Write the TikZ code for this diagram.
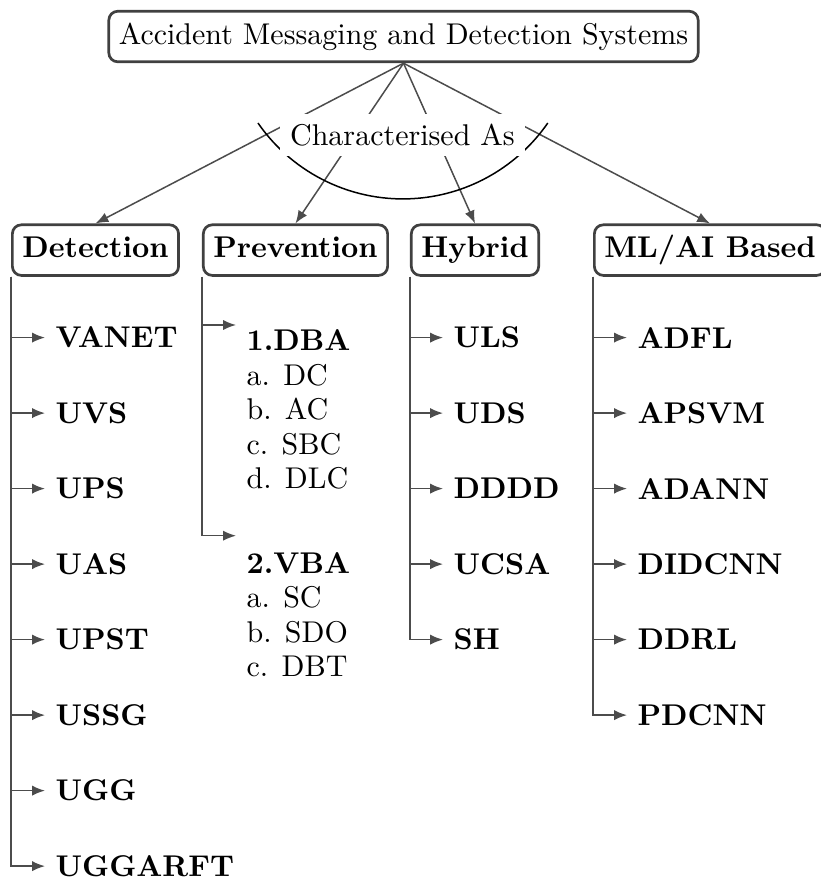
\documentclass[tikz,border=0pt]{standalone}
\usepackage{amsmath}
\usetikzlibrary{arrows.meta}

\begin{document}
\begin{tikzpicture}[
    box/.style={draw=black!75, line width=0.9pt, rounded corners=3pt, text height=7.6pt, text depth=2.6pt},
    head/.style={box, font=\bfseries, anchor=west},
    item/.style={font=\bfseries, anchor=west},
    sub/.style={align=left, anchor=north west},
    arr/.style={draw=black!70, line width=0.5pt, -{Latex[length=4.3pt,width=3.4pt]}}]
  \useasboundingbox (0,0) rectangle (9.607,-10.274);

  \node[box] (top) at (4.727,-0.428) {Accident Messaging and Detection Systems};

  \node[head] (det) at (0.129,-2.93) {Detection};
  \node[head] (prev) at (2.366,-2.93) {Prevention};
  \node[head] (hyb) at (4.803,-2.93) {Hybrid};
  \node[head] (ml) at (6.947,-2.93) {ML/AI Based};

  \foreach \n in {det,prev,hyb,ml}
    \draw[arr] (top.south) -- (\n.north);

  \draw[black, line width=0.5pt] (3.022,-1.441) arc[start angle=214.7, end angle=325.3, radius=2.065];
  \node[fill=white] (char) at (4.715,-1.582) {Characterised As};

  % detection
  \foreach \lbl [count=\i] in {VANET,UVS,UPS,UAS,UPST,USSG,UGG,UGGARFT} {
    \node[item] (det\i) at (0.527,{-3.955-0.8845*(\i-1)}) {\lbl};
    \draw[arr] (det.south west) |- (det\i.west);
  }

  % prevention
  \node[sub] (dba) at (2.765,-3.737) {\textbf{1.DBA}\\[-0.5pt] a. DC\\[-0.5pt] b. AC\\[-0.5pt] c. SBC\\[-0.5pt] d. DLC};
  \node[sub] (vba) at (2.765,-6.346) {\textbf{2.VBA}\\[-0.5pt] a. SC\\[-0.5pt] b. SDO\\[-0.5pt] c. DBT};
  \draw[arr] (prev.south west) |- ([yshift=-2pt]dba.north west);
  \draw[arr] (prev.south west) |- ([yshift=2pt]vba.north west);

  % hybrid
  \foreach \lbl [count=\i] in {ULS,UDS,DDDD,UCSA,SH} {
    \node[item] (hyb\i) at (5.19,{-3.955-0.8845*(\i-1)}) {\lbl};
    \draw[arr] (hyb.south west) |- (hyb\i.west);
  }

  % ml/ai
  \foreach \lbl [count=\i] in {ADFL,APSVM,ADANN,DIDCNN,DDRL,PDCNN} {
    \node[item] (ml\i) at (7.345,{-3.955-0.8845*(\i-1)}) {\lbl};
    \draw[arr] (ml.south west) |- (ml\i.west);
  }
\end{tikzpicture}
\end{document}
